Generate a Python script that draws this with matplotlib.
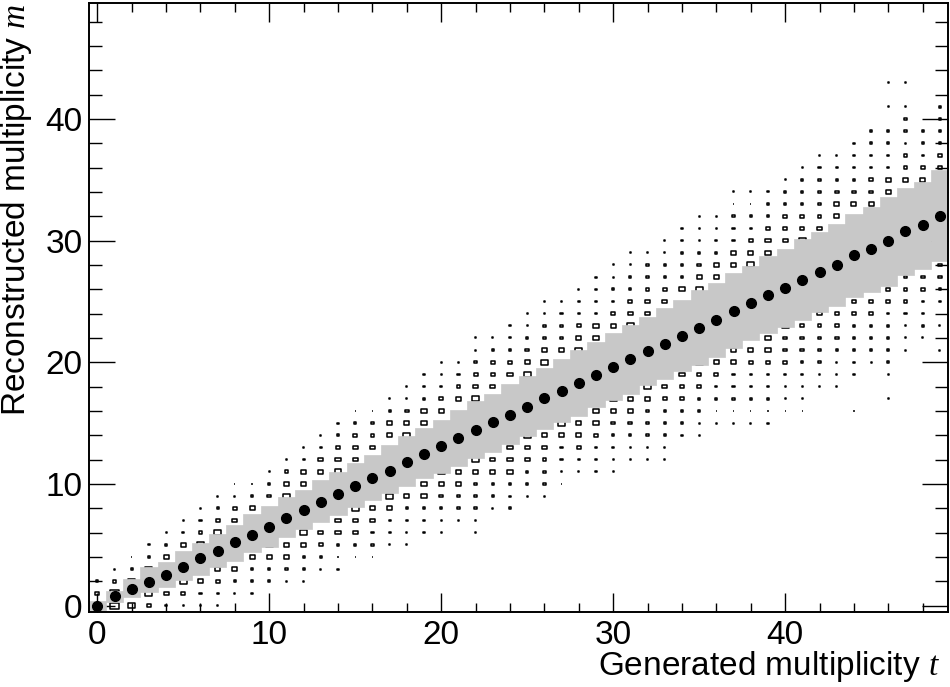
import numpy as np
import matplotlib
matplotlib.use("Agg")
import matplotlib.pyplot as plt
from matplotlib.patches import Rectangle
from matplotlib.collections import PatchCollection
from matplotlib.ticker import MultipleLocator

plt.rcParams.update({
    "font.family": ["Liberation Sans", "DejaVu Sans"],
    "mathtext.fontset": "custom",
    "mathtext.it": "Liberation Serif:italic",
    "mathtext.rm": "Liberation Sans",
    "font.size": 24,
})

# generated multiplicity t (one column per value)
t_vals = np.arange(50)

# mean reconstructed multiplicity per column (black dots)
mean_m = [0.0, 0.77, 1.37, 1.92, 2.55, 3.2, 3.9, 4.5, 5.2, 5.84,
          6.5, 7.19, 7.82, 8.5, 9.14, 9.82, 10.48, 11.1, 11.77, 12.46,
          13.09, 13.77, 14.43, 15.06, 15.69, 16.35, 17.04, 17.67, 18.27, 18.93,
          19.62, 20.27, 20.9, 21.48, 22.19, 22.85, 23.46, 24.22, 24.83, 25.51,
          26.09, 26.8, 27.4, 28.0, 28.8, 29.3, 30.0, 30.8, 31.3, 32.0]

# gray band, lower and upper edge per column
band_lo = [-0.55, 0.27, 0.69, 1.1, 1.5, 2.1, 2.55, 3.2, 3.7, 4.4,
           4.85, 5.6, 6.3, 6.85, 7.45, 8.1, 8.65, 9.25, 9.85, 10.45,
           10.9, 11.5, 12.15, 12.65, 13.3, 13.9, 14.5, 15.1, 15.6, 16.3,
           16.9, 17.4, 18.1, 18.6, 19.25, 19.8, 20.4, 21.2, 21.8, 22.4,
           22.9, 23.5, 24.15, 24.6, 25.35, 25.75, 26.3, 27.2, 27.7, 28.3]
band_hi = [0.4, 1.23, 2.2, 3.2, 3.57, 4.5, 5.15, 5.9, 6.6, 7.5,
           8.2, 8.9, 9.5, 10.3, 11.0, 11.7, 12.4, 13.2, 13.9, 14.6,
           15.28, 16.05, 16.8, 17.4, 18.2, 18.9, 19.5, 20.3, 21.0, 21.7,
           22.4, 23.1, 23.7, 24.47, 25.1, 25.9, 26.5, 27.3, 27.9, 28.7,
           29.3, 30.1, 30.7, 31.4, 32.2, 32.8, 33.6, 34.3, 34.8, 35.8]

# 2D histogram boxes: first m of each column, then one character per m
# (0 = empty, # = under the band, 1..6 = box size class)
box_start = [0, 0, 0, 0, 0, 0, 0, 0, 1, 1,
             2, 2, 2, 3, 3, 4, 4, 5, 5, 6,
             6, 7, 6, 8, 8, 9, 9, 10, 11, 11,
             11, 12, 12, 12, 14, 14, 15, 15, 15, 15,
             16, 16, 18, 18, 16, 20, 17, 21, 22, 21]
box_cols = [
    "#32", "6631", "5#521", "35#521", "24##421",
    "135##421", "124##5321", "1234##5321", "124###4311", "1224###421",
    "2245###321", "1244###5431", "12245###4421", "1234####4421", "11244###54321",
    "12445###44321", "12244####4331", "12245####4421", "11224####54311", "12244####44211",
    "112345####43211", "12244#####4321", "1122245####543211", "12244#####43321", "212444#####43211",
    "122445####543211", "122344#####542211", "112245#####43221", "12344#####543221", "112344#####442211",
    "1122345#####432211", "112344#####5432211", "1122345#####443221", "1122234######432211", "122334######422211",
    "1122335#####5432111", "112234######442211", "1122244######4422211", "1122234######5432211", "11222344######443221",
    "11123335######433221", "11122333######5332221", "1123334######4322221", "1112333#######443221", "1001122233#######432221",
    "122233#######4332222", "1012222233#######4422220101", "1112333#######433122101", "122233#######43222", "10102233#######332222",
]
box_size = {"1": 0.07, "2": 0.13, "3": 0.22, "4": 0.30, "5": 0.40, "6": 0.50}

fig = plt.figure(figsize=(9.5, 6.87), dpi=100)
ax = fig.add_axes([0.0934, 0.1096, 0.905, 0.8856])

rects = []
for t, (m0, col) in enumerate(zip(box_start, box_cols)):
    for k, c in enumerate(col):
        if c in "0#":
            continue
        f = box_size[c]
        rects.append(Rectangle((t - f / 2, m0 + k - f / 2), f, f))
ax.add_collection(PatchCollection(rects, facecolor="none", edgecolor="black",
                                  linewidth=1.1, zorder=1))

lo = np.array(band_lo)
hi = np.array(band_hi)
ax.bar(t_vals, hi - lo, bottom=lo, width=1.0, color="#c8c8c8",
       edgecolor="#c8c8c8", linewidth=0.5, zorder=2)

ax.plot(t_vals, mean_m, "o", color="black", ms=7, zorder=3)

ax.set_xlim(-0.5, 49.5)
ax.set_ylim(-0.5, 49.5)
ax.xaxis.set_major_locator(MultipleLocator(10))
ax.xaxis.set_minor_locator(MultipleLocator(2))
ax.yaxis.set_major_locator(MultipleLocator(10))
ax.yaxis.set_minor_locator(MultipleLocator(2))
ax.tick_params(which="both", direction="in", top=True, right=True,
               width=1.0, labelsize=24)
ax.tick_params(axis="x", which="major", length=13.7, pad=6)
ax.tick_params(axis="x", which="minor", length=6.8)
ax.tick_params(axis="y", which="major", length=18.7, pad=4.5)
ax.tick_params(axis="y", which="minor", length=9.4)
for sp in ax.spines.values():
    sp.set_linewidth(1.4)

ax.set_xlabel("Generated multiplicity $t$", fontsize=24, loc="right")
ax.xaxis.set_label_coords(0.99, -0.062)
ax.set_ylabel("Reconstructed multiplicity $m$", fontsize=24, loc="top")
ax.yaxis.set_label_coords(-0.064, 1.0)

fig.savefig("out.png", dpi=100)
